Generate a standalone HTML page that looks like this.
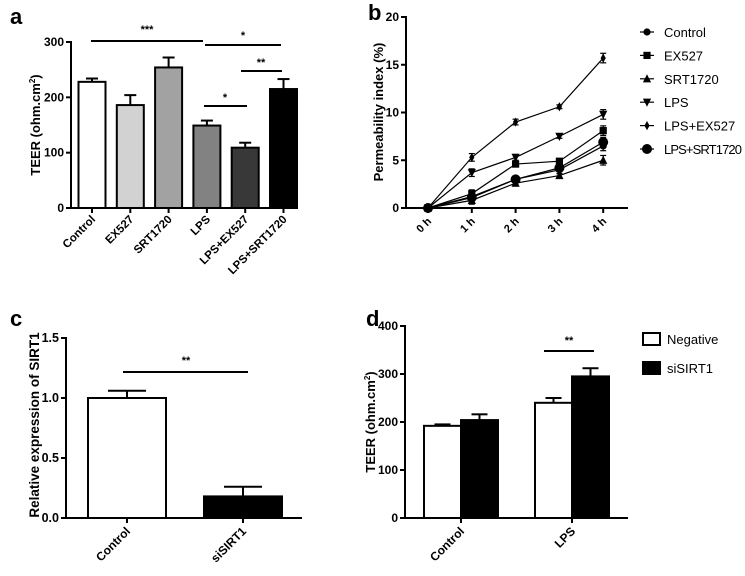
<!DOCTYPE html>
<html><head><meta charset="utf-8"><style>
body{margin:0;background:#fff}
svg{display:block;font-family:"Liberation Sans",Arial,sans-serif}
</style></head><body>
<svg id="fig" width="745" height="576" viewBox="0 0 745 576"></svg>
<script>
// Panel a
const aCats=["Control","EX527","SRT1720","LPS","LPS+EX527","LPS+SRT1720"];
const aVals=[228,186,254,149,109,215];
const aErr=[6,18,18,9,9,18];
const aTicks=[0,100,200,300];
// Panel b
const bCats=["0 h","1 h","2 h","3 h","4 h"];
const bNames=["Control","EX527","SRT1720","LPS","LPS+EX527","LPS+SRT1720"];
const bControl=[0,1.2,3.0,4.0,6.5];
const bEX527=[0,1.5,4.6,4.9,8.1];
const bSRT1720=[0,0.8,2.6,3.4,5.0];
const bLPS=[0,3.7,5.3,7.5,9.8];
const bLPSEX=[0,5.3,9.0,10.6,15.7];
const bLPSSRT=[0,1.1,3.0,4.2,6.9];
const bErrs=[0.3,0.4,0.3,0.2,0.5];
const bTicks=[0,5,10,15,20];
// Panel c
const cCats=["Control","siSIRT1"];
const cVals=[1.0,0.18];
const cErr=[0.06,0.08];
const cTicks=["0.0","0.5","1.0","1.5"];
// Panel d
const dCats=["Control","LPS"];
const dNeg=[192,240];
const dNegErr=[3,10];
const dSi=[204,295];
const dSiErr=[12,17];
const dTicks=[0,100,200,300,400];

const svg=document.getElementById('fig');
const NS="http://www.w3.org/2000/svg";
function mk(tag,attrs,name,parent){const e=document.createElementNS(NS,tag);for(const k in attrs)e.setAttribute(k,attrs[k]);


(parent||svg).appendChild(e);return e;}
function txt(x,y,s,name,o){const t=mk('text',Object.assign({x:x,y:y,'font-size':12,'font-weight':'bold',fill:'#000'},o||{}),name);t.textContent=s;return t;}
function line(x1,y1,x2,y2,name,w){return mk('line',{x1,y1,x2,y2,stroke:'#000','stroke-width':w||2},name);}
function errbar(x,y0,y1,hw,name){line(x,y0,x,y1,name,2);line(x-hw,y1,x+hw,y1,name+'-cap',2);}

// ---- Panel a
txt(10,24,"a","panel-label-a",{'font-size':22});
{const X0=71,X1=297,Y0=208,Y1=42,max=300;const y=v=>Y0-(Y0-Y1)*v/max;
const fills=["#fff","#d2d2d2","#a2a2a2","#828282","#383838","#000"];
const cx=i=>92+i*38.3;
aVals.forEach((v,i)=>{mk('rect',{x:cx(i)-13.5,y:y(v),width:27,height:Y0-y(v),fill:fills[i],stroke:'#000','stroke-width':2},'bar-'+aCats[i].toLowerCase().replace('+','-'));
errbar(cx(i),y(v),y(v+aErr[i]),6,'error-bar-'+i);
line(cx(i),Y0,cx(i),Y0+5,'x-tick');
txt(cx(i)+4,Y0+12,aCats[i],'x-label',{'text-anchor':'end',transform:`rotate(-45 ${cx(i)+4} ${Y0+12})`,'font-size':11.5});});
line(X0,Y1-1,X0,Y0+1,'y-axis');line(X0-1,Y0,X1,Y0,'x-axis');
aTicks.forEach(t=>{line(X0-5,y(t),X0,y(t),'y-tick');txt(X0-7,y(t)+4,t,'y-tick-label',{'text-anchor':'end'});});
const tt=txt(0,0,"",'y-axis-title',{transform:'translate(40,125) rotate(-90)','text-anchor':'middle','font-size':13});
tt.innerHTML='TEER (ohm.cm<tspan font-size="8" dy="-5">2</tspan><tspan dy="5">)</tspan>';
line(91,41,203,41,'sig-line');txt(147,33,"***",'sig-stars',{'text-anchor':'middle','font-size':11});
line(205,45,281,45,'sig-line');txt(243,39,"*",'sig-stars',{'text-anchor':'middle','font-size':11});
line(241,71,282,71,'sig-line');txt(261,66,"**",'sig-stars',{'text-anchor':'middle','font-size':11});
line(204,106,247,106,'sig-line');txt(225,101,"*",'sig-stars',{'text-anchor':'middle','font-size':11});}

// ---- Panel b
txt(368,20,"b","panel-label-b",{'font-size':22});
{const X0=406,X1=628,Y0=208,Y1=17,max=20;const y=v=>Y0-(Y0-Y1)*v/max;const x=i=>428+i*43.8;
const series=[bControl,bEX527,bSRT1720,bLPS,bLPSEX,bLPSSRT];
function marker(k,px,py,name){const s=k==5?5:3.6;
if(k==0||k==5)return mk('circle',{cx:px,cy:py,r:s},name);
if(k==1)return mk('rect',{x:px-s,y:py-s,width:2*s,height:2*s},name);
if(k==2)return mk('polygon',{points:`${px},${py-s-1} ${px-s-0.5},${py+s} ${px+s+0.5},${py+s}`},name);
if(k==3)return mk('polygon',{points:`${px},${py+s+1} ${px-s-0.5},${py-s} ${px+s+0.5},${py-s}`},name);
return mk('polygon',{points:`${px},${py-s-1} ${px+s-1},${py} ${px},${py+s+1} ${px-s+1},${py}`},name);}
series.forEach((d,k)=>{mk('polyline',{points:d.map((v,i)=>x(i)+','+y(v)).join(' '),fill:'none',stroke:'#000','stroke-width':1.2},'line-'+bNames[k].toLowerCase().replace('+','-'));
d.forEach((v,i)=>{if(i>0){const e=bErrs[i];line(x(i),y(v-e),x(i),y(v+e),'error-bar',1.2);line(x(i)-3,y(v+e),x(i)+3,y(v+e),'error-cap',1.2);line(x(i)-3,y(v-e),x(i)+3,y(v-e),'error-cap',1.2);}
marker(k,x(i),y(v),'point-'+k+'-'+i);});
const ly=32+k*23.4;line(640,ly,654,ly,'legend-line',1.2);marker(k,647,ly,'legend-marker');
txt(664,ly+5,bNames[k],'legend-entry',{'font-weight':'normal','font-size':13,textLength:k==5?78:undefined});});
line(X0,Y1-1,X0,Y0+1,'y-axis');line(X0-1,Y0,X1,Y0,'x-axis');
bTicks.forEach(t=>{line(X0-5,y(t),X0,y(t),'y-tick');txt(X0-7,y(t)+4,t,'y-tick-label',{'text-anchor':'end'});});
bCats.forEach((c,i)=>{line(x(i),Y0,x(i),Y0+5,'x-tick');txt(x(i)+4,Y0+14,c,'x-label',{'text-anchor':'end',transform:`rotate(-45 ${x(i)+4} ${Y0+14})`,'font-size':11});});
txt(0,0,"Permeability index (%)",'y-axis-title',{transform:'translate(383,112) rotate(-90)','text-anchor':'middle','font-size':13});}
document.querySelectorAll('[textLength="undefined"]').forEach(e=>e.removeAttribute('textLength'));

// ---- Panel c
txt(10,326,"c","panel-label-c",{'font-size':22});
{const X0=66,X1=302,Y0=518,Y1=338,max=1.5;const y=v=>Y0-(Y0-Y1)*v/max;const cx=[127,243];const fills=["#fff","#000"];
cVals.forEach((v,i)=>{mk('rect',{x:cx[i]-39,y:y(v),width:78,height:Y0-y(v),fill:fills[i],stroke:'#000','stroke-width':2},'bar-'+cCats[i].toLowerCase());
errbar(cx[i],y(v),y(v+cErr[i]),19,'error-bar-'+i);line(cx[i],Y0,cx[i],Y0+5,'x-tick');
txt(cx[i]+4,Y0+14,cCats[i],'x-label',{'text-anchor':'end',transform:`rotate(-45 ${cx[i]+4} ${Y0+14})`,'font-size':12});});
line(X0,Y1-1,X0,Y0+1,'y-axis');line(X0-1,Y0,X1,Y0,'x-axis');
cTicks.forEach(t=>{line(X0-5,y(+t),X0,y(+t),'y-tick');txt(X0-7,y(+t)+4,t,'y-tick-label',{'text-anchor':'end','font-size':12.5});});
txt(0,0,"Relative expression of SIRT1",'y-axis-title',{transform:'translate(39,425) rotate(-90)','text-anchor':'middle','font-size':13.5});
line(123,372,248,372,'sig-line');txt(186,364,"**",'sig-stars',{'text-anchor':'middle','font-size':11});}

// ---- Panel d
txt(366,326,"d","panel-label-d",{'font-size':22});
{const X0=405,X1=628,Y0=518,Y1=326,max=400;const y=v=>Y0-(Y0-Y1)*v/max;const gx=[461,572];
dCats.forEach((c,i)=>{
mk('rect',{x:gx[i]-37,y:y(dNeg[i]),width:37,height:Y0-y(dNeg[i]),fill:'#fff',stroke:'#000','stroke-width':2},'bar-negative-'+c.toLowerCase());
errbar(gx[i]-18.5,y(dNeg[i]),y(dNeg[i]+dNegErr[i]),8,'error-bar-neg');
mk('rect',{x:gx[i],y:y(dSi[i]),width:37,height:Y0-y(dSi[i]),fill:'#000',stroke:'#000','stroke-width':2},'bar-sisirt1-'+c.toLowerCase());
errbar(gx[i]+18.5,y(dSi[i]),y(dSi[i]+dSiErr[i]),8,'error-bar-si');
line(gx[i],Y0,gx[i],Y0+5,'x-tick');
txt(gx[i]+4,Y0+14,c,'x-label',{'text-anchor':'end',transform:`rotate(-45 ${gx[i]+4} ${Y0+14})`,'font-size':12});});
line(X0,Y1-1,X0,Y0+1,'y-axis');line(X0-1,Y0,X1,Y0,'x-axis');
dTicks.forEach(t=>{line(X0-5,y(t),X0,y(t),'y-tick');txt(X0-7,y(t)+4,t,'y-tick-label',{'text-anchor':'end'});});
const tt=txt(0,0,"",'y-axis-title',{transform:'translate(375,422) rotate(-90)','text-anchor':'middle','font-size':13});
tt.innerHTML='TEER (ohm.cm<tspan font-size="8" dy="-5">2</tspan><tspan dy="5">)</tspan>';
line(544,351,594,351,'sig-line');txt(569,344,"**",'sig-stars',{'text-anchor':'middle','font-size':11});
mk('rect',{x:643,y:333,width:17,height:12,fill:'#fff',stroke:'#000','stroke-width':2},'legend-swatch-negative');
txt(667,344,"Negative",'legend-entry',{'font-weight':'normal','font-size':13});
mk('rect',{x:643,y:362,width:17,height:12,fill:'#000',stroke:'#000','stroke-width':2},'legend-swatch-sisirt1');
txt(667,373,"siSIRT1",'legend-entry',{'font-weight':'normal','font-size':13});}
</script>
</body></html>
